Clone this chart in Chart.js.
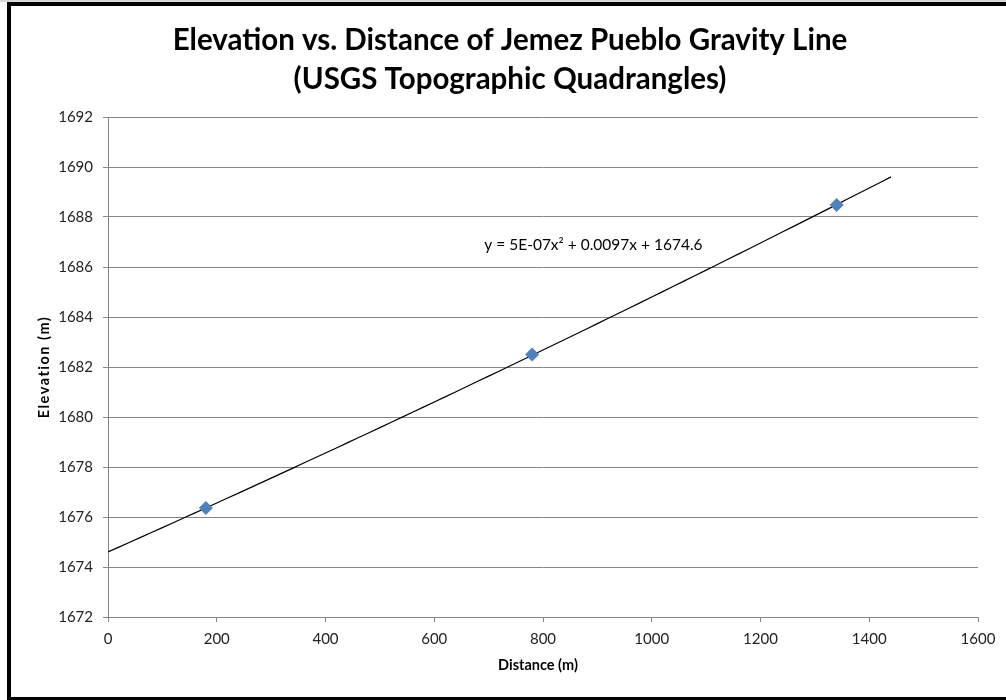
<!DOCTYPE html>
<html>
<head>
<meta charset="utf-8">
<script src="https://cdn.jsdelivr.net/npm/chart.js@4/dist/chart.umd.min.js"></script>
<style>
  html, body { margin: 0; padding: 0; background: #fff; }
  canvas { display: block; }
</style>
</head>
<body>
<canvas id="chart" width="1006" height="700"></canvas>
<script>
// Survey stations along the gravity line
const distances = [180, 780, 1340];
const elevations = [1676.36, 1682.5, 1688.48];

// Second-order polynomial trendline: c0 + c1*x + c2*x^2
const trendCoefficients = [1674.6, 0.0097, 5e-7];
const trendExtent = [0, 1440];
const equationLabel = 'y = 5E-07x\u00B2 + 0.0097x + 1674.6';

const xTicks = [0, 200, 400, 600, 800, 1000, 1200, 1400, 1600];
const yTicks = [1672, 1674, 1676, 1678, 1680, 1682, 1684, 1686, 1688, 1690, 1692];

const titleLines = ['Elevation vs. Distance of Jemez Pueblo Gravity Line', '(USGS Topographic Quadrangles)'];
const xAxisTitle = 'Distance (m)';
const yAxisTitle = 'Elevation (m)';

const stationPoints = distances.map((d, i) => ({ x: d, y: elevations[i] }));

const trendPoints = [];
for (let x = trendExtent[0]; x <= trendExtent[1]; x += 20) {
  trendPoints.push({ x, y: trendCoefficients[0] + trendCoefficients[1] * x + trendCoefficients[2] * x * x });
}

const GRID = '#868686';
const FONT = 'Lato, "Open Sans", sans-serif';

// White page with the heavy black frame around the figure
const framePlugin = {
  id: 'frame',
  beforeDraw(chart) {
    const ctx = chart.ctx;
    ctx.save();
    ctx.fillStyle = '#fff';
    ctx.fillRect(0, 0, chart.width, chart.height);
    ctx.restore();
  },
  afterDraw(chart) {
    const ctx = chart.ctx;
    ctx.save();
    ctx.fillStyle = '#d8d8d8';
    ctx.fillRect(0, 0, chart.width, 2);
    ctx.fillStyle = '#000';
    ctx.fillRect(7, 2, chart.width - 7, 4);
    ctx.fillRect(7, 2, 4, chart.height - 2);
    ctx.fillRect(7, chart.height - 3, chart.width - 7, 3);
    ctx.restore();
  }
};

// Two-line heading, axis titles and the trendline equation
const labelsPlugin = {
  id: 'labels',
  afterDatasetsDraw(chart) {
    const ctx = chart.ctx;
    const a = chart.chartArea;
    const xs = chart.scales.x, ys = chart.scales.y;

    ctx.save();
    ctx.fillStyle = '#000';
    ctx.font = 'bold 29.5px ' + FONT;
    ctx.textAlign = 'center';
    ctx.textBaseline = 'middle';
    ctx.fillText(titleLines[0], 510, 40);
    ctx.fillText(titleLines[1], 510, 79);
    ctx.restore();

    ctx.save();
    ctx.fillStyle = '#000';
    ctx.font = 'bold 14.5px ' + FONT;
    ctx.textAlign = 'center';
    ctx.textBaseline = 'middle';
    ctx.fillText(xAxisTitle, 538, 665);
    ctx.translate(44, (a.top + a.bottom) / 2);
    ctx.rotate(-Math.PI / 2);
    ctx.letterSpacing = '1.5px';
    ctx.fillText(yAxisTitle, 0, 0);
    ctx.restore();

    ctx.save();
    ctx.fillStyle = '#000';
    ctx.font = '15.5px ' + FONT;
    ctx.textAlign = 'left';
    ctx.textBaseline = 'middle';
    ctx.fillText(equationLabel, xs.getPixelForValue(692), ys.getPixelForValue(1686.9));
    ctx.restore();
  }
};

const plainNumber = v => String(v);

new Chart(document.getElementById('chart'), {
  type: 'scatter',
  data: {
    datasets: [
      {
        label: 'Trendline',
        data: trendPoints,
        showLine: true,
        borderColor: '#000',
        borderWidth: 1.2,
        pointRadius: 0,
        fill: false,
        order: 2
      },
      {
        label: 'Elevation',
        data: stationPoints,
        pointStyle: 'rectRot',
        pointRadius: 7,
        backgroundColor: '#4F81BD',
        borderColor: '#4F81BD',
        borderWidth: 0,
        order: 1
      }
    ]
  },
  options: {
    responsive: false,
    animation: false,
    layout: { padding: { left: 12, right: 28, top: 117, bottom: 0 } },
    plugins: {
      legend: { display: false },
      tooltip: { enabled: false },
      title: { display: false }
    },
    scales: {
      x: {
        type: 'linear',
        min: 0,
        max: 1600,
        afterBuildTicks: s => { s.ticks = xTicks.map(v => ({ value: v })); },
        afterFit: s => { s.height = 83; },
        ticks: { color: '#222', font: { family: FONT, size: 15 }, padding: 8, callback: plainNumber },
        grid: { drawOnChartArea: false, drawTicks: true, tickLength: 5, color: GRID },
        border: { color: GRID }
      },
      y: {
        min: 1672,
        max: 1692,
        afterBuildTicks: s => { s.ticks = yTicks.map(v => ({ value: v })); },
        afterFit: s => { s.width = 96; },
        ticks: { color: '#222', font: { family: FONT, size: 15 }, padding: 10, callback: plainNumber },
        grid: { color: GRID, tickLength: 5 },
        border: { color: GRID }
      }
    }
  },
  plugins: [framePlugin, labelsPlugin]
});
</script>
</body>
</html>
